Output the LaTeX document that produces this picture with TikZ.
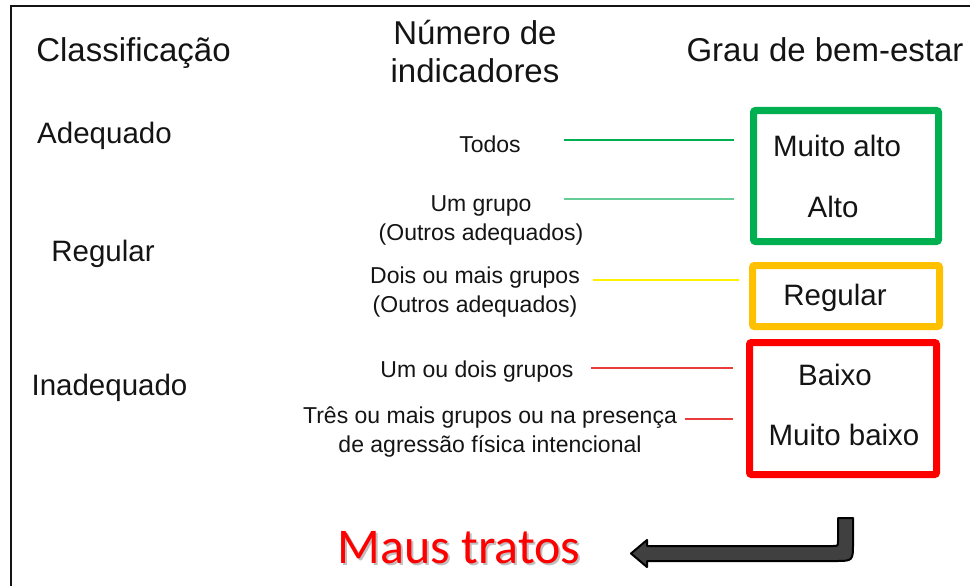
\documentclass[tikz,border=0pt]{standalone}
\usepackage{fontspec}
\setmainfont{Liberation Sans}
\newfontfamily\calibrifont{Carlito}
\usetikzlibrary{positioning}
\definecolor{InkBlack}{RGB}{20, 20, 20}
\definecolor{BoxGreen}{RGB}{0, 176, 80}
\definecolor{LineGreen}{RGB}{102, 204, 150}
\definecolor{BoxOrange}{RGB}{255, 192, 0}
\definecolor{LineYellow}{RGB}{255, 240, 0}
\definecolor{BoxRed}{RGB}{255, 0, 0}
\definecolor{LineRed}{RGB}{235, 60, 60}
\definecolor{ArrowGrey}{RGB}{64, 64, 64}

\begin{document}
\begin{tikzpicture}[x=1pt, y=-1pt,
    head/.style={font=\fontsize{33}{38}\selectfont, align=center, anchor=base, text=InkBlack},
    klass/.style={font=\fontsize{29.5}{34}\selectfont, anchor=base, text=InkBlack},
    indic/.style={font=\fontsize{23}{29}\selectfont, align=center, anchor=base, text=InkBlack},
    grade/.style={font=\fontsize{29.5}{34}\selectfont, anchor=base, text=InkBlack},
    gradebox/.style={draw, line width=7pt, rounded corners=2pt, inner sep=0pt},
    link/.style={line width=1.3pt}]
    \useasboundingbox (0,0) rectangle (970,586);
    % Moldura
    \draw[InkBlack, line width=2.5pt] (970,6) -- (11,6) -- (11,586);

    % Cabecalhos (base = ultima linha)
    \node[head] (hclass) at (133.5,62) {Classificação};
    \node[head] (hnum) at (475,82) {Número de\\indicadores};
    \node[head] (hgrau) at (825,62) {Grau de bem-estar};

    % Classificacao
    \node[klass] (adequado) at (104.5,143) {Adequado};
    \node[klass] (regular) at (103,261) {Regular};
    \node[klass] (inadequado) at (109.5,395) {Inadequado};

    % Numero de indicadores
    \node[indic] (todos) at (490,153) {Todos};
    \node[indic] (umgrupo) at (481,240) {Um grupo\\(Outros adequados)};
    \node[indic] (doisgrupos) at (475,312) {Dois ou mais grupos\\(Outros adequados)};
    \node[indic] (umoudois) at (477,377) {Um ou dois grupos};
    \node[indic] (tresgrupos) at (490,452) {Três ou mais grupos ou na presença\\de agressão física intencional};

    % Grau de bem-estar
    \node[gradebox, draw=BoxGreen, minimum width=185pt, minimum height=131pt] (gbox) at (846,176) {};
    \node[gradebox, draw=BoxOrange, minimum width=187pt, minimum height=61pt] (obox) at (846,296) {};
    \node[gradebox, draw=BoxRed, minimum width=187pt, minimum height=132pt] (rbox) at (843,408.5) {};
    \node[grade] (muitoalto) at (837,157) {Muito alto};
    \node[grade] (alto) at (833,217) {Alto};
    \node[grade] (gregular) at (835,305) {Regular};
    \node[grade] (baixo) at (835,385) {Baixo};
    \node[grade] (muitobaixo) at (844,445) {Muito baixo};

    % Ligacoes
    \coordinate (ltodos) at (564,140);
    \coordinate (lumgrupo) at (564,199);
    \coordinate (ldois) at (593,280);
    \coordinate (lumoudois) at (591,368);
    \coordinate (ltres) at (685,419);
    \draw[link, BoxGreen, shorten >=16pt] (ltodos) -- (ltodos -| gbox.west);
    \draw[link, LineGreen, shorten >=16pt] (lumgrupo) -- (lumgrupo -| gbox.west);
    \draw[link, LineYellow, shorten >=10pt] (ldois) -- (ldois -| obox.west);
    \draw[link, LineRed, shorten >=13pt] (lumoudois) -- (lumoudois -| rbox.west);
    \draw[link, LineRed, shorten >=13pt] (ltres) -- (ltres -| rbox.west);

    % Maus tratos
    \node[font=\calibrifont\fontsize{50}{60}\selectfont, text=black!25, anchor=base] (mausshadow) at (461,565) {Maus tratos};
    \node[font=\calibrifont\fontsize{50}{60}\selectfont, text=BoxRed, anchor=base] (maus) at (459,563) {Maus tratos};
    \filldraw[draw=black, fill=ArrowGrey, line width=2pt, line join=round]
        (838,518) -- (853,518) -- (853,543) .. controls (853,561) .. (835,561)
        -- (647,561) -- (647,567) -- (631,553.5) -- (647,540) -- (647,546)
        -- (833,546) .. controls (838,546) .. (838,541) -- cycle;
\end{tikzpicture}
\end{document}
